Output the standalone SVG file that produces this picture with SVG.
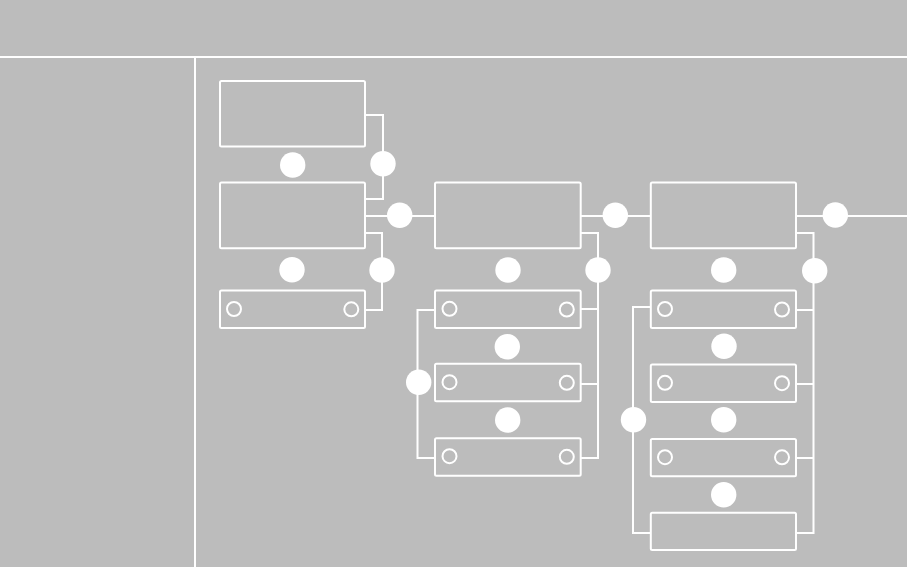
<svg xmlns="http://www.w3.org/2000/svg" width="908" height="575" viewBox="0 0 908 575">
<style>
.n{fill:none;stroke:#fff;stroke-width:2}
.c{fill:none;stroke:#fff;stroke-width:2}
.d{fill:#fff}
.o{fill:none;stroke:#fff;stroke-width:2}
</style>
<rect width="908" height="575" fill="#fff"/>
<rect width="907" height="567" fill="#bcbcbc"/>
<g id="connectors">
<path class="c" d="M0 57H907M195 57V567"/>
<path class="c" d="M365 115H383V199H365"/>
<path class="c" d="M365 216H435"/>
<path class="c" d="M365 233H382V310H365"/>
<path class="c" d="M581 216H651"/>
<path class="c" d="M581 233H598V458H581M581 309H598M581 384H598"/>
<path class="c" d="M435 310H417.500V458H435"/>
<path class="c" d="M796 216H907"/>
<path class="c" d="M796 233H813.500V533H796M796 310H813.500M796 384H813.500M796 458H813.500"/>
<path class="c" d="M651 307H633V533H651"/>
</g>
<g id="node-a"><rect class="n" x="220" y="81" width="145" height="65.500" rx="1.500"/></g>
<g id="node-b"><rect class="n" x="220" y="182.500" width="145" height="65.700" rx="1.500"/></g>
<g id="node-c"><rect class="n" x="220" y="290.500" width="145" height="37.500" rx="1.500"/><circle class="o" cx="234" cy="309" r="7"/><circle class="o" cx="351.300" cy="309.300" r="7"/></g>
<g id="node-d"><rect class="n" x="435" y="182.500" width="145.700" height="65.700" rx="1.500"/></g>
<g id="node-e"><rect class="n" x="435" y="290.500" width="145.700" height="37.500" rx="1.500"/><circle class="o" cx="449.500" cy="308.800" r="7"/><circle class="o" cx="566.800" cy="309.500" r="7"/></g>
<g id="node-f"><rect class="n" x="435" y="363.800" width="145.700" height="37.500" rx="1.500"/><circle class="o" cx="449.500" cy="382.200" r="7"/><circle class="o" cx="566.800" cy="382.800" r="7"/></g>
<g id="node-g"><rect class="n" x="435" y="438.200" width="145.700" height="37.500" rx="1.500"/><circle class="o" cx="449.500" cy="456.200" r="7"/><circle class="o" cx="566.800" cy="456.800" r="7"/></g>
<g id="node-h"><rect class="n" x="650.800" y="182.500" width="145.200" height="65.700" rx="1.500"/></g>
<g id="node-i"><rect class="n" x="650.800" y="290.500" width="145.200" height="37.500" rx="1.500"/><circle class="o" cx="665" cy="309" r="7"/><circle class="o" cx="782" cy="309.500" r="7"/></g>
<g id="node-j"><rect class="n" x="650.800" y="364.500" width="145.200" height="37.500" rx="1.500"/><circle class="o" cx="665" cy="382.800" r="7"/><circle class="o" cx="782" cy="383.200" r="7"/></g>
<g id="node-k"><rect class="n" x="650.800" y="439" width="145.200" height="37.300" rx="1.500"/><circle class="o" cx="665" cy="457.200" r="7"/><circle class="o" cx="782" cy="457.300" r="7"/></g>
<g id="node-l"><rect class="n" x="650.800" y="512.700" width="145.200" height="37.300" rx="1.500"/></g>
<g id="dots" class="d">
<circle cx="292.700" cy="165" r="12.700"/><circle cx="383" cy="163.700" r="12.700"/><circle cx="399.700" cy="215.300" r="12.700"/>
<circle cx="292" cy="269.700" r="12.700"/><circle cx="382" cy="270" r="12.700"/>
<circle cx="508" cy="270" r="12.700"/><circle cx="598" cy="270" r="12.700"/><circle cx="615.300" cy="215.300" r="12.700"/>
<circle cx="507.300" cy="346.700" r="12.700"/><circle cx="418.700" cy="382.300" r="12.700"/><circle cx="507.700" cy="420" r="12.700"/>
<circle cx="723.700" cy="270" r="12.700"/><circle cx="814.700" cy="270.700" r="12.700"/><circle cx="835.300" cy="215" r="12.700"/>
<circle cx="724" cy="346.300" r="12.700"/><circle cx="633.500" cy="419.700" r="12.700"/><circle cx="723.700" cy="419.700" r="12.700"/><circle cx="723.700" cy="494.700" r="12.700"/>
</g>
</svg>
